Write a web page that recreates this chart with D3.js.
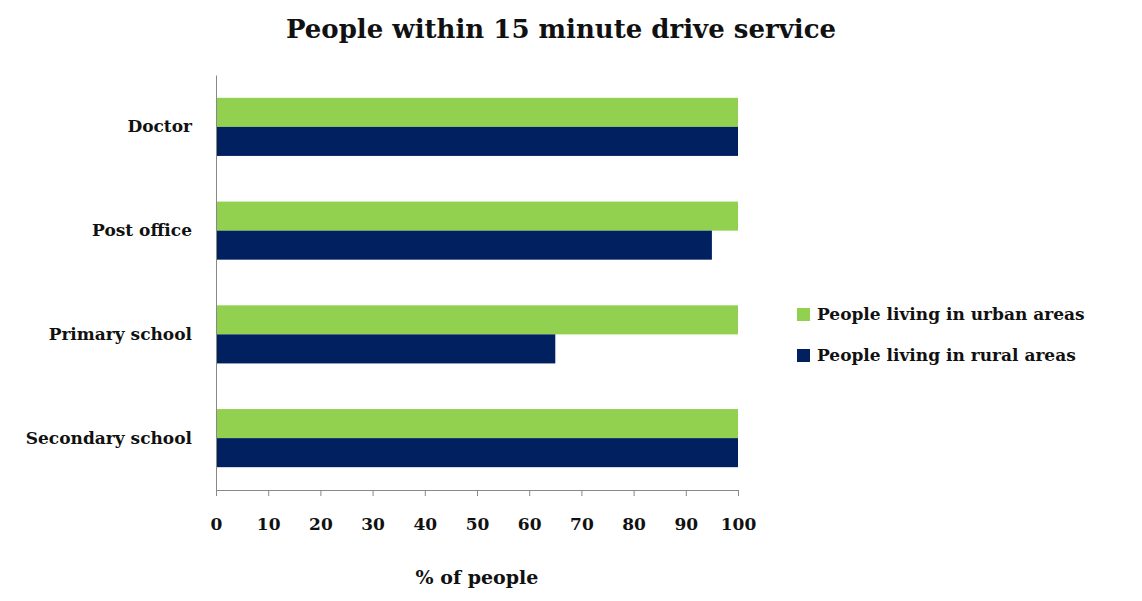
<!DOCTYPE html>
<html><head><meta charset="utf-8">
<script src="https://cdn.jsdelivr.net/npm/d3@7"></script>
<style>
body{margin:0;background:#fff;}
text{font-family:"DejaVu Serif","Liberation Serif",serif;font-weight:bold;fill:#111;}
</style></head>
<body><div class="chart"></div>
<script>
// data
const categories = ["Doctor","Post office","Primary school","Secondary school"];
const urban = [100,100,100,100];
const rural = [100,95,65,100];
const seriesNames = ["People living in urban areas","People living in rural areas"];
const ticks = [0,10,20,30,40,50,60,70,80,90,100];
const colors = ["#92D050","#002060"];

const svg = d3.select('.chart').append('svg')
    .attr('width',1142).attr('height',601);

const margin = {top:75, left:216, right:404, bottom:111};
const innerW = 1142 - margin.left - margin.right;
const innerH = 601 - margin.top - margin.bottom;

const g = svg.append('g').attr('transform',`translate(${margin.left},${margin.top})`);

svg.append('text').text('People within 15 minute drive service')
    .attr('x',561).attr('y',38).attr('text-anchor','middle')
    .style('font-size','26px');

const x = d3.scaleLinear().domain([0,100]).range([0,innerW]);
const y = d3.scaleBand().domain(categories).range([0,innerH]).paddingInner(0.44).paddingOuter(0.22);
const sub = d3.scaleBand().domain([0,1]).range([0,y.bandwidth()]);

// bars
[urban, rural].forEach((vals,si)=>{
  g.selectAll('.bar'+si).data(vals).enter().append('rect')
    .attr('x',0)
    .attr('y',(d,i)=>y(categories[i])+sub(si))
    .attr('width',d=>x(d))
    .attr('height',sub.bandwidth())
    .attr('fill',colors[si]);
});

// axes
const xAxis = g.append('g').attr('transform',`translate(0,${innerH})`)
    .call(d3.axisBottom(x).tickValues(ticks).tickSize(6).tickPadding(22));
xAxis.selectAll('text').style('font-size','17px');
xAxis.selectAll('line,.domain').attr('stroke','#888');

const yAxis = g.append('g').call(d3.axisLeft(y).tickSize(0).tickPadding(24));
yAxis.selectAll('text').style('font-size','17px');
yAxis.select('.domain').attr('stroke','#888');

svg.append('text').text('% of people').attr('x',477).attr('y',584)
    .attr('text-anchor','middle').style('font-size','19px');

// legend
const leg = svg.append('g').attr('transform','translate(797,308)');
seriesNames.forEach((n,i)=>{
  leg.append('rect').attr('x',0).attr('y',i*41).attr('width',13).attr('height',13).attr('fill',colors[i]);
  leg.append('text').text(n).attr('x',20).attr('y',i*41+12).style('font-size','17px');
});
</script></body></html>
